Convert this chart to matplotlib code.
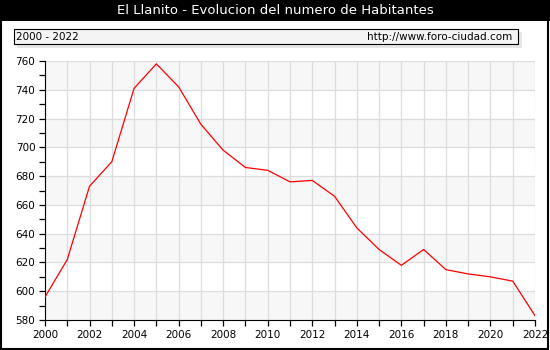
import matplotlib
matplotlib.use("Agg")
import matplotlib.pyplot as plt
from matplotlib.patches import Rectangle

years = list(range(2000, 2023))
habitantes = [596, 622, 673, 690, 741, 758, 742, 716, 698, 686, 684, 676, 677,
              666, 644, 629, 618, 629, 615, 612, 610, 607, 583]
title = "El Llanito - Evolucion del numero de Habitantes"
periodo = "2000 - 2022"
web = "http://www.foro-ciudad.com"
ymin, ymax = 580, 760


def main():
    plt.rcParams['font.family'] = ['DejaVu Sans']
    fig = plt.figure(figsize=(5.5, 3.5), dpi=100)
    W, H = 550, 350

    # black title bar + border
    fig.patches.append(Rectangle((0, 1 - 21 / H), 1, 21 / H, transform=fig.transFigure,
                                 facecolor='black', edgecolor='none', zorder=0))
    fig.patches.append(Rectangle((1 / W, 1 / H), 1 - 3 / W, 1 - 2 / H, transform=fig.transFigure,
                                 facecolor='none', edgecolor='black', lw=1.5, zorder=5))
    fig.text(0.5, 1 - 11 / H, title, color='white', ha='center', va='center', fontsize=9.5)

    # info box with shadow
    fig.patches.append(Rectangle((17 / W, 1 - 48 / H), 505 / W, 16 / H, transform=fig.transFigure,
                                 facecolor='#e6e6e6', edgecolor='none', zorder=1))
    fig.patches.append(Rectangle((14 / W, 1 - 44 / H), 504 / W, 15 / H, transform=fig.transFigure,
                                 facecolor='#f4f4f4', edgecolor='black', lw=0.8, zorder=2))
    fig.text(16 / W, 1 - 36.5 / H, periodo, ha='left', va='center', fontsize=7.5, zorder=3)
    fig.text(512 / W, 1 - 36.5 / H, web, ha='right', va='center', fontsize=7.5, zorder=3)

    ax = fig.add_axes([45 / W, 1 - 320 / H, 490 / W, 259 / H])
    for lo in range(ymin, ymax, 40):
        ax.axhspan(lo, lo + 20, color='#f7f7f7', zorder=0, lw=0)
    ax.plot(years, habitantes, color='red', lw=0.9, zorder=3)

    ax.set_xlim(2000, 2022)
    ax.set_ylim(ymin, ymax)
    ax.set_xticks(years, minor=True)
    ax.set_xticks(years[::2])
    ax.set_yticks(range(ymin, ymax + 1, 20))
    ax.set_yticks(range(ymin, ymax + 1, 10), minor=True)
    ax.grid(True, which='major', color='#dddddd', lw=0.9, zorder=1)
    ax.grid(True, which='minor', axis='x', color='#dddddd', lw=0.9, zorder=1)
    ax.set_axisbelow(True)
    for s in ['top', 'right']:
        ax.spines[s].set_visible(False)
    ax.tick_params(which='both', direction='out', length=4, width=0.9, labelsize=7.5, pad=3)
    ax.tick_params(which='minor', length=4)

    fig.savefig("out.png", dpi=100)


if __name__ == "__main__":
    main()
